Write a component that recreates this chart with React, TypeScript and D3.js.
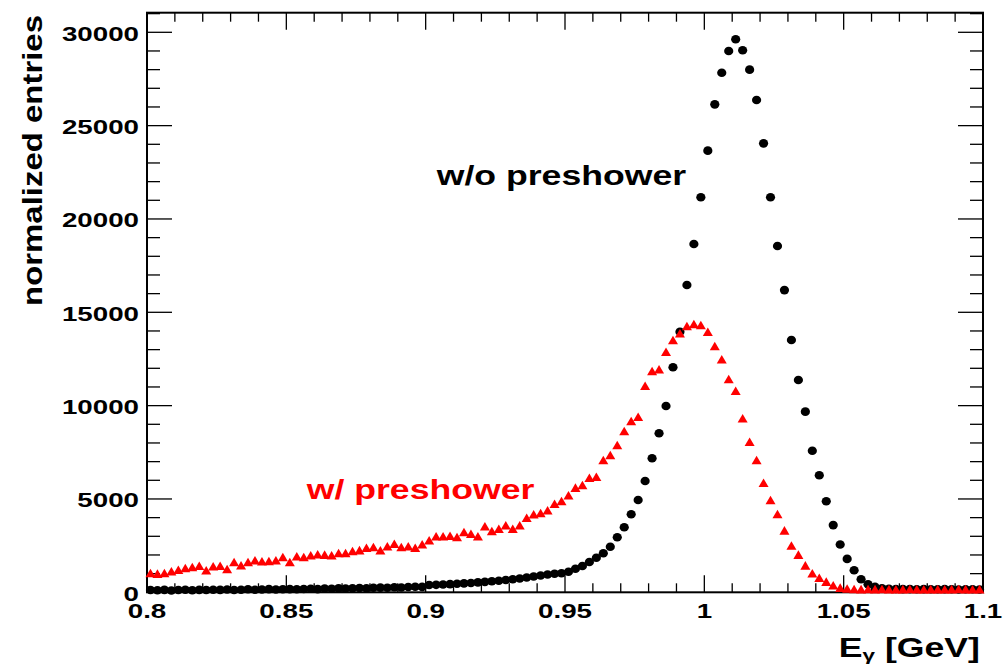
import * as d3 from "d3";

// ── Data (histogram, 120 bins of 2.5 MeV from 0.8 to 1.1 GeV) ────────────────

const BIN_LO = 0.8;
const BIN_WIDTH = 0.0025;

/** w/o preshower (black dots) */
const noPreshower = [
  120, 110, 130, 100, 120, 140, 110, 130, 120, 140,
  130, 150, 120, 140, 160, 140, 150, 170, 150, 160,
  170, 160, 180, 190, 170, 200, 190, 210, 200, 220,
  230, 220, 240, 250, 240, 270, 260, 280, 300, 290,
  390, 400, 420, 440, 460, 480, 500, 530, 560, 590,
  620, 660, 700, 740, 790, 850, 900, 950, 990, 1020,
  1100, 1264, 1409, 1623, 1853, 2089, 2443, 2946, 3482, 4178,
  4944, 5962, 7178, 8517, 9980, 12053, 13960, 16460, 18660, 21160,
  23660, 26140, 27836, 29000, 29625, 29035, 28000, 26370, 24050, 21160,
  18550, 16190, 13516, 11373, 9677, 7587, 6268, 4875, 3600, 2560,
  1790, 1180, 700, 430, 290, 220, 190, 180, 170, 170,
  160, 170, 160, 160, 170, 160, 150, 160, 160, 150,
];

/** w/ preshower (red triangles) */
const withPreshower = [
  1034, 998, 1034, 1125, 1211, 1302, 1355, 1425, 1178, 1393,
  1425, 1248, 1623, 1446, 1623, 1714, 1661, 1677, 1714, 1891,
  1623, 1928, 1891, 1982, 2036, 2018, 1982, 2105, 2105, 2212,
  2260, 2390, 2427, 2250, 2464, 2604, 2427, 2464, 2390, 2571,
  2785, 3000, 3000, 3032, 2962, 3230, 3140, 3000, 3535, 3284,
  3407, 3590, 3407, 3590, 3996, 4178, 4248, 4393, 4746, 4890,
  5200, 5605, 5748, 6140, 6193, 7087, 7355, 7891, 8641, 9177,
  9407, 11068, 11855, 11946, 12889, 13516, 13875, 14266, 14373, 14320,
  13960, 13194, 12482, 11427, 10800, 9321, 8068, 7087, 5871, 4944,
  4194, 3320, 2510, 2020, 1440, 1018, 780, 570, 380, 250,
  200, 180, 170, 180, 170, 180, 170, 160, 170, 180,
  170, 160, 170, 170, 160, 170, 180, 170, 160, 170,
];

const X_DOMAIN: [number, number] = [0.8, 1.1];
const Y_DOMAIN: [number, number] = [0, 31050];
const xMajorTicks = ["0.8", "0.85", "0.9", "0.95", "1", "1.05", "1.1"];
const yMajorTicks = ["0", "5000", "10000", "15000", "20000", "25000", "30000"];

// ── Layout ───────────────────────────────────────────────────────────────────

const W = 1003;
const H = 668;
const FRAME = { left: 147, right: 983, top: 12.7, bottom: 592.3 };
const FONT = "'Liberation Sans', Arial, Helvetica, sans-serif";
const STRETCH = 1.32; // glyphs in the reference are wider than Arial

function trianglePath(cx: number, cy: number, hw: number, hh: number): string {
  const p = d3.path();
  p.moveTo(cx, cy - hh);
  p.lineTo(cx + hw, cy + hh);
  p.lineTo(cx - hw, cy + hh);
  p.closePath();
  return p.toString();
}

export default function App() {
  const x = d3.scaleLinear().domain(X_DOMAIN).range([FRAME.left, FRAME.right]);
  const y = d3.scaleLinear().domain(Y_DOMAIN).range([FRAME.bottom, FRAME.top]);

  const binCenter = (i: number) => BIN_LO + BIN_WIDTH * (i + 0.5);

  const xMinor = d3.range(0, 31).map((k) => 0.8 + k * 0.01);
  const yMinor = d3.range(0, 32).map((k) => k * 1000);

  return (
    <svg
      width={W}
      height={H}
      style={{ position: "absolute", left: 0, top: 0, background: "#fff" }}
      fontFamily={FONT}
      fontWeight="bold"
    >
      <rect x={0} y={0} width={W} height={H} fill="#fff" />

      {/* Ticks, x (bottom + top) */}
      {xMinor.map((v, k) => {
        const len = k % 5 === 0 ? 17 : 9;
        return (
          <g key={`xm${k}`} stroke="#000" strokeWidth={1.3}>
            <line x1={x(v)} x2={x(v)} y1={FRAME.bottom} y2={FRAME.bottom - len} />
            <line x1={x(v)} x2={x(v)} y1={FRAME.top} y2={FRAME.top + len} />
          </g>
        );
      })}

      {/* Ticks, y (left + right) */}
      {yMinor.map((v, k) => {
        const len = k % 5 === 0 ? 25 : 13;
        return (
          <g key={`ym${k}`} stroke="#000" strokeWidth={1.3}>
            <line x1={FRAME.left} x2={FRAME.left + len} y1={y(v)} y2={y(v)} />
            <line x1={FRAME.right} x2={FRAME.right - len} y1={y(v)} y2={y(v)} />
          </g>
        );
      })}

      {/* Frame */}
      <rect
        x={FRAME.left}
        y={FRAME.top}
        width={FRAME.right - FRAME.left}
        height={FRAME.bottom - FRAME.top}
        fill="none"
        stroke="#000"
        strokeWidth={2}
      />

      {/* X tick labels */}
      {xMajorTicks.map((t) => (
        <g key={`xl${t}`} transform={`translate(${x(+t)},618) scale(${STRETCH},1)`}>
          <text textAnchor="middle" fontSize={21} fill="#000">
            {t}
          </text>
        </g>
      ))}

      {/* Y tick labels */}
      {yMajorTicks.map((t) => (
        <g key={`yl${t}`} transform={`translate(139,${y(+t) + 8.5}) scale(${STRETCH},1)`}>
          <text textAnchor="end" fontSize={21} fill="#000">
            {t}
          </text>
        </g>
      ))}

      {/* Axis titles */}
      <g transform={`translate(980,656.7) scale(${STRETCH},1)`}>
        <text textAnchor="end" fontSize={27} fill="#000">
          E
          <tspan fontSize={17} dy={4}>
            γ
          </tspan>
          <tspan dy={-4}> [GeV]</tspan>
        </text>
      </g>
      <g transform={`translate(42,15) rotate(-90) scale(1.22,1)`}>
        <text textAnchor="end" fontSize={27} fill="#000">
          normalized entries
        </text>
      </g>

      {/* Series: w/o preshower */}
      <g fill="#000">
        {noPreshower.map((v, i) => (
          <ellipse key={`b${i}`} cx={x(binCenter(i))} cy={y(v)} rx={4.6} ry={4.3} />
        ))}
      </g>

      {/* Series: w/ preshower */}
      <g fill="#ff0000">
        {withPreshower.map((v, i) => (
          <path key={`r${i}`} d={trianglePath(x(binCenter(i)), y(v), 5, 4.3)} />
        ))}
      </g>

      {/* Labels */}
      <g transform={`translate(436.7,185) scale(${STRETCH},1)`}>
        <text fontSize={27} fill="#000">
          w/o preshower
        </text>
      </g>
      <g transform={`translate(306.7,499.3) scale(${STRETCH},1)`}>
        <text fontSize={27} fill="#ff0000">
          w/ preshower
        </text>
      </g>
    </svg>
  );
}
